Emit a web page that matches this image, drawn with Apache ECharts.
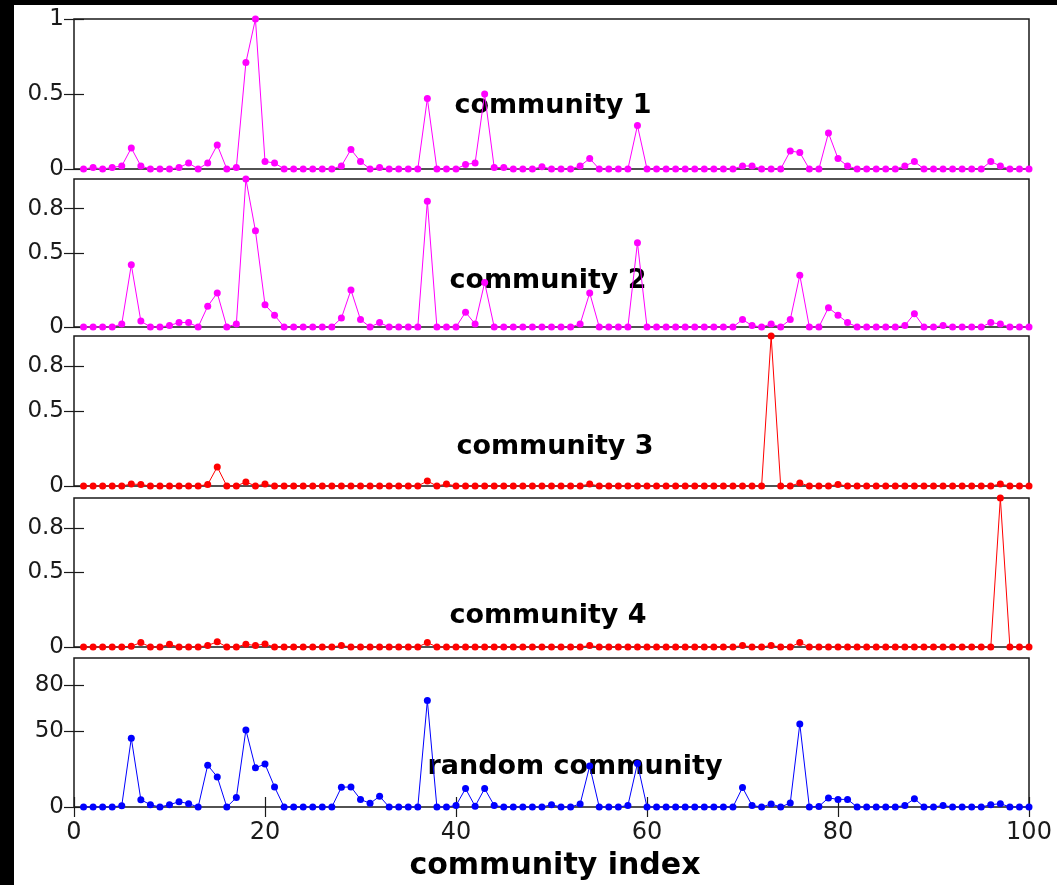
<!DOCTYPE html>
<html>
<head>
<meta charset="utf-8">
<script src="https://cdn.jsdelivr.net/npm/echarts@6/dist/echarts.min.js"></script>
<style>
html,body{margin:0;padding:0;background:#fff;}
#chart{width:1057px;height:885px;}
</style>
</head>
<body>
<div id="chart"></div>
<script>
// community index (x values)
const communityIndex = [1,2,3,4,5,6,7,8,9,10,11,12,13,14,15,16,17,18,19,20,
21,22,23,24,25,26,27,28,29,30,31,32,33,34,35,36,37,38,39,40,
41,42,43,44,45,46,47,48,49,50,51,52,53,54,55,56,57,58,59,60,
61,62,63,64,65,66,67,68,69,70,71,72,73,74,75,76,77,78,79,80,
81,82,83,84,85,86,87,88,89,90,91,92,93,94,95,96,97,98,99,100];

const community1 = [0,0.01,0,0.01,0.02,0.14,0.02,0,0,0,
0.01,0.04,0,0.04,0.16,0,0.01,0.71,1.0,0.05,
0.04,0,0,0,0,0,0,0.02,0.13,0.05,
0,0.01,0,0,0,0,0.47,0,0,0,
0.03,0.04,0.5,0.01,0.01,0,0,0,0.015,0,
0,0,0.02,0.07,0,0,0,0,0.29,0,
0,0,0,0,0,0,0,0,0,0.02,
0.02,0,0,0,0.12,0.11,0,0,0.24,0.07,
0.02,0,0,0,0,0,0.02,0.05,0,0,
0,0,0,0,0,0.05,0.02,0,0,0];

const community2 = [0,0,0,0,0.02,0.42,0.04,0,0,0.01,
0.03,0.03,0,0.14,0.23,0,0.02,1.0,0.65,0.15,
0.08,0,0,0,0,0,0,0.06,0.25,0.05,
0,0.03,0,0,0,0,0.85,0,0,0,
0.10,0.02,0.30,0,0,0,0,0,0,0,
0,0,0.02,0.23,0,0,0,0,0.57,0,
0,0,0,0,0,0,0,0,0,0.05,
0.01,0,0.02,0,0.05,0.35,0,0,0.13,0.08,
0.03,0,0,0,0,0,0.01,0.09,0,0,
0.01,0,0,0,0,0.03,0.02,0,0,0];

const community3 = [0,0,0,0,0,0.013,0.01,0,0,0,
0,0,0,0.01,0.127,0,0,0.027,0,0.013,
0,0,0,0,0,0,0,0,0,0,
0,0,0,0,0,0,0.033,0,0.013,0,
0,0,0,0,0,0,0,0,0,0,
0,0,0,0.013,0,0,0,0,0,0,
0,0,0,0,0,0,0,0,0,0,
0,0,1.0,0,0,0.02,0,0,0,0.01,
0,0,0,0,0,0,0,0,0,0,
0,0,0,0,0,0,0.013,0,0,0];

const community4 = [0,0,0,0,0,0.005,0.03,0,0,0.018,
0,0,0,0.01,0.035,0,0,0.018,0.01,0.02,
0,0,0,0,0,0,0,0.01,0,0,
0,0,0,0,0,0,0.03,0,0,0,
0,0,0,0,0,0,0,0,0,0,
0,0,0,0.01,0,0,0,0,0,0,
0,0,0,0,0,0,0,0,0,0.01,
0,0,0.01,0,0,0.03,0,0,0,0,
0,0,0,0,0,0,0,0,0,0,
0,0,0,0,0,0,1.0,0,0,0];

const randomCommunity = [0,0,0,0,0.9,45.2,4.8,1.5,0,1.5,
3.5,2.2,0,27.5,19.8,0,6.2,50.7,25.8,28.2,
13.2,0,0,0,0,0,0,13,13.2,5,
2.4,7,0,0,0,0,70,0,0,1,
12.1,0.5,12.1,1,0,0,0,0,0,1.5,
0,0,2,26.9,0,0,0,1,28.6,0,
0,0,0,0,0,0,0,0,0,12.8,
1,0,2,0,2.6,54.6,0,0.4,6,5,
5,0,0,0,0,0,1,5.5,0,0,
1,0,0,0,0,1.5,2.2,0,0,0];

const panelTitles = ['community 1','community 2','community 3','community 4','random community'];
const xTicks = [0,20,40,60,80,100];
const yTicksTop = [0,0.5,1];
const yTicksMid = [0,0.5,0.8];
const yTicksRandom = [0,50,80];

const FONT = '"DejaVu Sans", "Liberation Sans", Arial, sans-serif';
const panels = [
  {data: community1, color:'#ff00ff', max:1, ticks:yTicksTop, top:19, h:150, label:[553,106]},
  {data: community2, color:'#ff00ff', max:1, ticks:yTicksMid, top:179, h:148, label:[548,281]},
  {data: community3, color:'#ff0000', max:1, ticks:yTicksMid, top:336, h:150, label:[555,447]},
  {data: community4, color:'#ff0000', max:1, ticks:yTicksMid, top:498, h:149, label:[548,616]},
  {data: randomCommunity, color:'#0000ff', max:98, ticks:yTicksRandom, top:658, h:149, label:[575,767]}
];

const grid=[], xAxis=[], yAxis=[], series=[], graphic=[];
const axisColor = '#1a1a1a';
panels.forEach((p,i)=>{
  grid.push({left:74, right:28, top:p.top, height:p.h, show:true, borderColor:axisColor, borderWidth:1.5, backgroundColor:'transparent'});
  const isLast = i===panels.length-1;
  xAxis.push({type:'value', gridIndex:i, min:0, max:100, interval:20, position:'bottom',
    axisLine:{show:false}, splitLine:{show:false},
    axisTick:{show:isLast, inside:true, length:10, customValues:xTicks, lineStyle:{color:axisColor, width:1.2}},
    axisLabel:{show:isLast, customValues:xTicks, margin:14, color:axisColor, fontSize:24, fontFamily:FONT}});
  xAxis.push({type:'value', gridIndex:i, min:0, max:100, interval:20, position:'top',
    axisLine:{show:false}, splitLine:{show:false},
    axisTick:{show:isLast, inside:true, length:10, customValues:xTicks, lineStyle:{color:axisColor, width:1.2}},
    axisLabel:{show:false}});
  yAxis.push({type:'value', gridIndex:i, min:0, max:p.max, position:'left',
    axisLine:{show:false}, splitLine:{show:false},
    axisTick:{show:true, inside:true, length:10, customValues:p.ticks, lineStyle:{color:axisColor, width:1.2}},
    axisLabel:{show:true, customValues:p.ticks, margin:10, color:axisColor, fontSize:23, fontFamily:FONT}});
  yAxis.push({type:'value', gridIndex:i, min:0, max:p.max, position:'right',
    axisLine:{show:false}, splitLine:{show:false},
    axisTick:{show:true, inside:true, length:10, customValues:p.ticks, lineStyle:{color:axisColor, width:1.2}},
    axisLabel:{show:false}});
  series.push({type:'line', xAxisIndex:2*i, yAxisIndex:2*i, clip:false,
    data:p.data.map((v,k)=>[communityIndex[k], v]),
    symbol:'circle', symbolSize:7, showAllSymbol:true,
    lineStyle:{color:p.color, width:1}, itemStyle:{color:p.color}, z:3, animation:false});
  graphic.push({type:'text', x:p.label[0], y:p.label[1], z:1,
    style:{text:panelTitles[i], font:'bold 27px '+FONT, fill:'#000', textAlign:'center', textVerticalAlign:'middle'}});
});
graphic.push({type:'rect', shape:{x:0,y:0,width:14,height:885}, style:{fill:'#000'}, z:0});
graphic.push({type:'rect', shape:{x:0,y:0,width:1057,height:5}, style:{fill:'#000'}, z:0});
graphic.push({type:'text', x:555, y:866, z:1,
  style:{text:'community index', font:'bold 30px '+FONT, fill:'#000', textAlign:'center', textVerticalAlign:'middle'}});

const chart = echarts.init(document.getElementById('chart'), null, {renderer:'canvas'});
chart.setOption({backgroundColor:'#fff', animation:false, grid, xAxis, yAxis, series, graphic});
</script>
</body>
</html>
